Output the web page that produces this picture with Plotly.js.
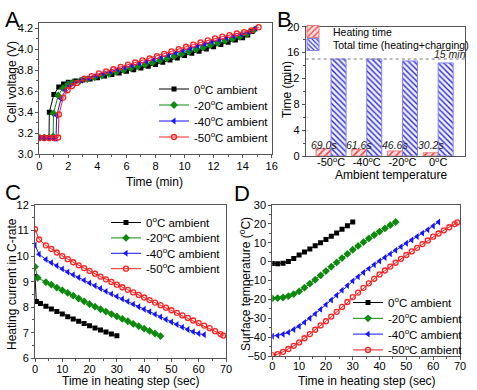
<!DOCTYPE html>
<html><head><meta charset="utf-8">
<script src="https://cdn.plot.ly/plotly-3.0.1.min.js"></script>
<style>html,body{margin:0;padding:0;background:#fff}#chart{width:477px;height:390px}</style>
</head><body><div id="chart"></div>
<script>
// ---------- names ----------
const seriesNames = ['0<sup>o</sup>C ambient','-20<sup>o</sup>C ambient','-40<sup>o</sup>C ambient','-50<sup>o</sup>C ambient'];

// ---------- Panel A: cell voltage vs time (min) ----------
const tA0 = [0,0.33,0.67,0.69,1.0,1.34,1.67,2.0,2.5,3,3.5,4,4.5,5,5.5,6,6.5,7,7.5,8,8.5,9,9.5,10,10.5,11,11.5,12,12.5,13,13.5,14,14.35,14.65];
const vA0 = [3.16,3.16,3.16,3.40,3.57,3.64,3.67,3.685,3.697,3.707,3.718,3.73,3.745,3.76,3.775,3.79,3.806,3.822,3.838,3.855,3.876,3.897,3.918,3.94,3.961,3.982,4.003,4.025,4.046,4.067,4.088,4.11,4.135,4.17];
const tA20 = [0,0.33,0.67,0.95,0.98,1.3,1.63,1.96,2.3,2.8,3.3,3.8,4.3,4.8,5.3,5.8,6.3,6.8,7.3,7.8,8.3,8.8,9.3,9.8,10.3,10.8,11.3,11.8,12.3,12.8,13.3,13.8,14.3,14.8];
const vA20 = [3.16,3.16,3.16,3.17,3.39,3.56,3.63,3.665,3.685,3.70,3.715,3.733,3.75,3.767,3.785,3.803,3.82,3.838,3.855,3.873,3.892,3.913,3.935,3.956,3.978,3.999,4.02,4.042,4.062,4.082,4.10,4.118,4.145,4.185];
const tA40 = [0,0.33,0.67,1.0,1.15,1.2,1.5,1.8,2.1,2.4,2.9,3.4,3.9,4.4,4.9,5.4,5.9,6.4,6.9,7.4,7.9,8.4,8.9,9.4,9.9,10.4,10.9,11.4,11.9,12.4,12.9,13.4,13.9,14.4,14.9];
const vA40 = [3.155,3.155,3.155,3.15,3.15,3.37,3.53,3.61,3.65,3.675,3.705,3.725,3.75,3.77,3.788,3.807,3.826,3.845,3.864,3.883,3.902,3.922,3.943,3.965,3.987,4.008,4.03,4.051,4.072,4.09,4.108,4.125,4.142,4.165,4.20];
const tA50 = [0,0.33,0.67,1.0,1.3,1.35,1.65,1.95,2.25,2.6,3.1,3.6,4.1,4.6,5.1,5.6,6.1,6.6,7.1,7.6,8.1,8.6,9.1,9.6,10.1,10.6,11.1,11.6,12.1,12.6,13.1,13.6,14.1,14.6,15.1];
const vA50 = [3.155,3.155,3.155,3.155,3.16,3.38,3.54,3.61,3.65,3.68,3.72,3.745,3.77,3.79,3.81,3.832,3.854,3.874,3.894,3.914,3.935,3.957,3.98,4.002,4.024,4.045,4.065,4.085,4.103,4.12,4.135,4.15,4.163,4.18,4.21];

// ---------- Panel B: heating and total time ----------
const catsB = ['-50<sup>o</sup>C','-40<sup>o</sup>C','-20<sup>o</sup>C','0<sup>o</sup>C'];
const heatSec = [69.0, 61.6, 46.6, 30.2];
const totalMin = [15.0, 15.0, 14.7, 14.4];
const targetMin = 15;

// ---------- Panel C: heating current (C-rate) vs time (s) ----------
const tC0 = [0,0.5,2,4,6,8,10,12,14,16,18,20,22,24,26,28,30];
const iC0 = [9.2,8.22,8.14,8.04,7.93,7.83,7.73,7.63,7.54,7.45,7.36,7.27,7.19,7.11,7.03,6.95,6.88];
const tC20 = [0,1,4,6,8,10,12,14,16,18,20,22,24,26,28,30,32,34,36,38,40,42,44,46];
const iC20 = [9.58,9.15,8.98,8.88,8.77,8.66,8.56,8.45,8.34,8.23,8.12,8.02,7.92,7.83,7.73,7.64,7.54,7.45,7.35,7.26,7.16,7.07,6.97,6.87];
const tC40 = [0,1.5,4,6,8,10,12,14,16,18,20,22,24,26,28,30,32,34,36,38,40,42,44,46,48,50,52,54,56,58,60,62];
const iC40 = [10.43,10.07,9.87,9.74,9.62,9.5,9.38,9.27,9.16,9.05,8.95,8.84,8.73,8.62,8.52,8.42,8.32,8.22,8.12,8.02,7.92,7.82,7.72,7.62,7.52,7.42,7.32,7.22,7.13,7.04,6.97,6.92];
const tC50 = [0,1.5,4,6,8,10,12,14,16,18,20,22,24,26,28,30,32,34,36,38,40,42,44,46,48,50,52,54,56,58,60,62,64,66,68,69];
const iC50 = [11.05,10.65,10.42,10.28,10.14,10.0,9.88,9.76,9.64,9.53,9.42,9.31,9.2,9.09,8.99,8.88,8.78,8.68,8.58,8.48,8.38,8.28,8.18,8.08,7.98,7.88,7.78,7.68,7.58,7.48,7.38,7.28,7.18,7.06,6.95,6.89];

// ---------- Panel D: surface temperature vs time (s) ----------
const tD0 = [0,2,4,6,8,10,12,14,16,18,20,22,24,26,28,30];
const sD0 = [-1,-1.1,-0.8,0.1,1.7,3.5,5.1,6.7,8.4,10,11.7,13.4,15.2,17.1,19,21];
const tD20 = [0,2,4,6,8,10,12,14,16,18,20,22,24,26,28,30,32,34,36,38,40,42,44,46];
const sD20 = [-19.5,-19.3,-19.0,-18.3,-17.2,-15.8,-13.8,-11.7,-9.6,-7.3,-5.0,-2.7,-0.4,1.9,4.1,6.3,8.3,10.3,12.3,14.1,15.9,17.6,19.3,21];
const tD40 = [0,2,4,6,8,10,12,14,16,18,20,22,24,26,28,30,32,34,36,38,40,42,44,46,48,50,52,54,56,58,60,62];
const sD40 = [-39.5,-39.2,-38.5,-37.5,-36,-34.2,-32.2,-30,-27.7,-25.3,-22.8,-20.3,-17.8,-15.2,-12.7,-10.2,-8,-5.8,-3.7,-1.7,0.3,2.2,4.1,6,7.9,9.7,11.5,13.3,15.1,16.9,18.9,21];
const tD50 = [0,2,4,6,8,10,12,14,16,18,20,22,24,26,28,30,32,34,36,38,40,42,44,46,48,50,52,54,56,58,60,62,64,66,68,69];
const sD50 = [-49.5,-49,-47.8,-46.3,-44.6,-42.8,-40.6,-38.4,-36.1,-33.8,-31.6,-29.1,-26.6,-24.0,-21.4,-18.8,-16.4,-13.9,-11.5,-9.1,-6.8,-4.7,-2.6,-0.6,1.5,3.5,5.4,7.3,9.3,11.2,13.2,14.9,16.6,18.2,19.9,20.8];

// ---------- styling ----------
const W = 477, H = 390;
const px = x => x / W, py = y => 1 - y / H;
const colors = ['#000000','#0b8a0b','#1414ff','#ff1e1e'];
const symbols = ['square','diamond','triangle-left','circle-open'];
const FONT = 'Liberation Sans, Arial, sans-serif';

function mk(x, y, i, xa, ya, leg, size) {
  return {
    type: 'scatter', mode: 'lines+markers', x: x, y: y, name: seriesNames[i],
    xaxis: xa, yaxis: ya, legend: leg, cliponaxis: true,
    line: {color: colors[i], width: 1},
    marker: {symbol: symbols[i], size: size, color: colors[i],
             line: {width: i === 3 ? 1.3 : 0, color: colors[i]}}
  };
}

const data = [
  mk(tA0, vA0, 0, 'x', 'y', 'legend', 5),
  mk(tA20, vA20, 1, 'x', 'y', 'legend', 6),
  mk(tA40, vA40, 2, 'x', 'y', 'legend', 6),
  mk(tA50, vA50, 3, 'x', 'y', 'legend', 5),
  {type: 'bar', x: catsB, y: heatSec.map(s => s / 60), name: 'Heating time',
   xaxis: 'x2', yaxis: 'y2', legend: 'legend2',
   marker: {color: '#fde2e2', line: {color: '#f07a7a', width: 1},
            pattern: {shape: '/', fgcolor: '#f03a3a', bgcolor: '#fde2e2', size: 5, solidity: 0.3}}},
  {type: 'bar', x: catsB, y: totalMin, name: 'Total time (heating+charging)',
   xaxis: 'x2', yaxis: 'y2', legend: 'legend2',
   marker: {color: '#f2f2ff', line: {color: '#8080ff', width: 1},
            pattern: {shape: '\\', fgcolor: '#2a2ad0', bgcolor: '#f2f2ff', size: 4, solidity: 0.35}}},
  mk(tC0, iC0, 0, 'x3', 'y3', 'legend3', 5),
  mk(tC20, iC20, 1, 'x3', 'y3', 'legend3', 6),
  mk(tC40, iC40, 2, 'x3', 'y3', 'legend3', 6),
  mk(tC50, iC50, 3, 'x3', 'y3', 'legend3', 5),
  mk(tD0, sD0, 0, 'x4', 'y4', 'legend4', 5),
  mk(tD20, sD20, 1, 'x4', 'y4', 'legend4', 6),
  mk(tD40, sD40, 2, 'x4', 'y4', 'legend4', 6),
  mk(tD50, sD50, 3, 'x4', 'y4', 'legend4', 5)
];

const baseAx = {showline: true, mirror: true, linecolor: '#555', linewidth: 1,
  ticks: 'outside', ticklen: 3, tickcolor: '#555', showgrid: false, zeroline: false,
  tickfont: {size: 11, color: '#000', family: FONT}};
function ax(extra) { return Object.assign({}, baseAx, extra); }

const legBase = {bgcolor: 'rgba(0,0,0,0)', borderwidth: 0, font: {size: 11.5, family: FONT, color: '#000'},
  xanchor: 'left', yanchor: 'top', tracegroupgap: 0};

function note(text, x, y, size, angle, extra) {
  return Object.assign({text: text, x: px(x), y: py(y), xref: 'paper', yref: 'paper',
    xanchor: 'center', yanchor: 'middle', showarrow: false, textangle: angle || 0,
    font: {size: size, family: FONT, color: '#000'}}, extra || {});
}

const annotations = [
  note('A', 12.5, 19, 22), note('B', 284.5, 19, 22), note('C', 12.5, 192, 22), note('D', 242, 193, 22),
  note('Cell voltage (V)', 12, 82, 12, -90),
  note('Time (min)', 154, 182, 12),
  note('Time (min)', 287, 90, 12, -90),
  note('Ambient temperature', 391, 174.5, 12),
  note('Heating current in C-rate', 12, 284, 12, -90),
  note('Time in heating step (sec)', 131, 381, 12),
  note('Surface temperature (<sup>o</sup>C)', 245, 284, 12, -90),
  note('Time in heating step (sec)', 367, 381, 12),
  {text: '<i>' + targetMin + ' min</i>', xref: 'x2 domain', yref: 'y2', x: 1.01, y: targetMin,
   xanchor: 'right', yanchor: 'middle', yshift: 5, borderpad: 0, showarrow: false,
   font: {size: 10.5, family: FONT, color: '#222'}}
];
heatSec.forEach((s, i) => {
  annotations.push({text: '<i>' + s.toFixed(1) + 's</i>', xref: 'x2', yref: 'y2', x: i - 0.21, y: 1.65,
    xanchor: 'center', yanchor: 'middle', showarrow: false, font: {size: 10.5, family: FONT, color: '#222'}});
});

const layout = {
  width: W, height: H, margin: {l: 0, r: 0, t: 0, b: 0},
  paper_bgcolor: '#fff', plot_bgcolor: '#fff',
  font: {family: FONT, size: 11, color: '#000'},
  showlegend: true,
  barmode: 'group', bargap: 0.16, bargroupgap: 0,
  xaxis: ax({domain: [px(39.3), px(271.7)], range: [0, 16], dtick: 2, anchor: 'y', ticklabelstandoff: -2,
             minor: {ticks: 'outside', ticklen: 2, dtick: 1, tickcolor: '#555'}}),
  yaxis: ax({domain: [py(154.3), py(22.7)], range: [3.0, 4.253], dtick: 0.2, tickformat: '.1f', anchor: 'x',
             minor: {ticks: 'outside', ticklen: 2, dtick: 0.1, tickcolor: '#555'}}),
  xaxis2: ax({domain: [px(305.7), px(465.3)], type: 'category', categoryorder: 'array', categoryarray: catsB,
              range: [-0.71, 3.76], ticks: '', anchor: 'y2', ticklabelstandoff: -4}),
  yaxis2: ax({domain: [py(156), py(26.7)], range: [0, 20], dtick: 4, anchor: 'x2',
              minor: {ticks: 'outside', ticklen: 2, dtick: 2, tickcolor: '#555'}}),
  xaxis3: ax({domain: [px(35), px(226)], range: [0, 70], dtick: 10, anchor: 'y3', ticklabelstandoff: -3,
              minor: {ticks: 'outside', ticklen: 2, dtick: 5, tickcolor: '#555'}}),
  yaxis3: ax({domain: [py(358.3), py(205)], range: [6, 12], dtick: 1, anchor: 'x3',
              minor: {ticks: 'outside', ticklen: 2, dtick: 0.5, tickcolor: '#555'}}),
  xaxis4: ax({domain: [px(272.3), px(460)], range: [0, 70], dtick: 10, anchor: 'y4', ticklabelstandoff: -3,
              minor: {ticks: 'outside', ticklen: 2, dtick: 5, tickcolor: '#555'}}),
  yaxis4: ax({domain: [py(356), py(205)], range: [-50, 30], dtick: 10, anchor: 'x4',
              minor: {ticks: 'outside', ticklen: 2, dtick: 5, tickcolor: '#555'}}),
  legend: Object.assign({}, legBase, {x: px(154), y: py(74.5)}),
  legend2: Object.assign({}, legBase, {x: px(293), y: py(17), font: {size: 10.5, family: FONT, color: '#000'}}),
  legend3: Object.assign({}, legBase, {x: px(106), y: py(208)}),
  legend4: Object.assign({}, legBase, {x: px(348), y: py(288)}),
  shapes: [{type: 'line', xref: 'x2 domain', yref: 'y2', x0: 0, x1: 1, y0: targetMin, y1: targetMin,
            line: {color: '#777', width: 1, dash: 'dot'}}],
  annotations: annotations
};

// tighter legend row spacing (px between entries), as in the reference
const legendRowGap = {legend: 16, legend2: 13, legend3: 15.4, legend4: 15.8};

Plotly.newPlot('chart', data, layout, {staticPlot: true, displayModeBar: false}).then(function (gd) {
  Object.keys(legendRowGap).forEach(function (id) {
    const lg = gd.querySelector('g.' + id);
    if (!lg) return;
    const items = lg.querySelectorAll('g.traces');
    let y0 = null;
    items.forEach(function (it, i) {
      const tr = it.getAttribute('transform') || '';
      const m = tr.match(/translate\(\s*([-\d.e]+)[ ,]+([-\d.e]+)\s*\)/);
      if (!m) return;
      const x = parseFloat(m[1]), y = parseFloat(m[2]);
      if (y0 === null) y0 = y;
      it.setAttribute('transform', 'translate(' + x + ',' + (y0 + i * legendRowGap[id]) + ')');
    });
  });
});
</script>
</body></html>
